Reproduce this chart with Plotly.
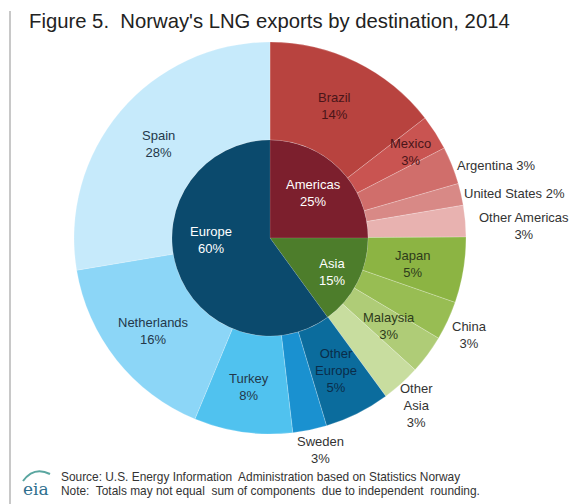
import math
import plotly.graph_objects as go

# ---------------- data ----------------
inner_labels = ["Americas", "Asia", "Europe"]
inner_values = [25, 15, 60]
inner_pct = ["25%", "15%", "60%"]

outer_labels = ["Brazil", "Mexico", "Argentina", "United States", "Other Americas",
                "Japan", "China", "Malaysia", "Other<br>Asia",
                "Other<br>Europe", "Sweden", "Turkey", "Netherlands", "Spain"]
# slice sizes (labels are rounded)
outer_values = [14.5, 2.9, 3.1, 1.8, 2.6,
                5.4, 3.2, 3.2, 3.2,
                5.4, 2.8, 8.1, 16.1, 27.6]
outer_pct = ["14%", "3%", "3%", "2%", "3%",
             "5%", "3%", "3%", "3%",
             "5%", "3%", "8%", "16%", "28%"]

# ---------------- style ----------------
# the page body has an 8px margin: work in reference-pixel coordinates, shifted by OFF
OFF = 8
W, H = 577 - OFF, 504 - OFF
CX, CY, R_OUT, R_IN = 270, 238, 196, 98
FONT = "Liberation Sans, Arial, sans-serif"

inner_colors = ["#7c1f2d", "#4d7d2b", "#0b4a6d"]
outer_colors = ["#b8433f", "#c95451", "#d06e6b", "#d88986", "#e8b2b0",
                "#8cb443", "#98bd53", "#afcc77", "#c8dd9f",
                "#0b6c9d", "#1a91d0", "#50c2ef", "#8cd6f7", "#c6eafb"]
inner_text_colors = ["white", "white", "white"]
outer_text_colors = ["#4a1519", "#4a1519", "#333333", "#333333", "#333333",
                     "#2e3b1b", "#333333", "#2e3b1b", "#333333",
                     "#0a2d4a", "#333333", "#23384a", "#23384a", "#23384a"]

# label placement: (mode, radius factor, angle shift, xanchor, yanchor, dx, dy, one_line)
outer_place = [
    ("in", 0.75, 0, "center", "middle", 0, 0, False),
    ("in", 0.84, 1, "center", "middle", 0, 0, False),
    ("out", 1.0, 0, "left", "middle", 3, 0, True),
    ("out", 1.0, 0, "left", "middle", 1, -1, True),
    ("out", 1.0, 0, "left", "middle", 12, 5, False),
    ("in", 0.74, 1, "center", "middle", 0, 0, False),
    ("out", 1.0, 0, "left", "middle", 2, 14, False),
    ("in", 0.755, 0, "center", "middle", 0, 0, False),
    ("out", 1.0, 0, "left", "top", -3, -5, False),
    ("in", 0.755, 0, "center", "middle", 0, 0, False),
    ("out", 1.0, 0, "center", "top", 11, 2, False),
    ("in", 0.77, 0, "center", "middle", 0, 0, False),
    ("in", 0.76, 0, "center", "middle", 0, 0, False),
    ("in", 0.745, 0, "center", "middle", 0, 0, False),
]
inner_place = [(0.64, -1), (0.72, 2), (0.60, 16)]


def px(x):
    return (x - OFF) / W


def py(y):
    return 1 - (y - OFF) / H


def polar(r, deg):
    a = math.radians(deg)
    return CX + r * math.sin(a), CY - r * math.cos(a)


fig = go.Figure()
fig.add_trace(go.Pie(
    values=outer_values, labels=outer_labels, hole=R_IN / R_OUT, sort=False,
    direction="clockwise", rotation=0, textinfo="none", showlegend=False,
    marker=dict(colors=outer_colors, line=dict(color="rgba(255,255,255,0.35)", width=0.6)),
    domain=dict(x=[px(CX - R_OUT), px(CX + R_OUT)], y=[py(CY + R_OUT), py(CY - R_OUT)]),
))
fig.add_trace(go.Pie(
    values=inner_values, labels=inner_labels, sort=False,
    direction="clockwise", rotation=0, textinfo="none", showlegend=False,
    marker=dict(colors=inner_colors, line=dict(color="rgba(255,255,255,0.2)", width=0.5)),
    domain=dict(x=[px(CX - R_IN), px(CX + R_IN)], y=[py(CY + R_IN), py(CY - R_IN)]),
))

ann = []
tot = sum(outer_values)
cum = 0
for i, v in enumerate(outer_values):
    mid = 360 * (cum + v / 2) / tot
    cum += v
    mode, rf, dth, xa, ya, dx, dy, one = outer_place[i]
    x, y = polar(R_OUT * rf, mid + dth)
    sep = " " if one else "<br>"
    ann.append(dict(x=px(x + dx), y=py(y + dy), xref="paper", yref="paper",
                    text=outer_labels[i] + sep + outer_pct[i], showarrow=False,
                    xanchor=xa, yanchor=ya, align="center",
                    font=dict(family=FONT, size=13, color=outer_text_colors[i])))

tot = sum(inner_values)
cum = 0
for i, v in enumerate(inner_values):
    mid = 360 * (cum + v / 2) / tot
    cum += v
    rf, dth = inner_place[i]
    x, y = polar(R_IN * rf, mid + dth)
    ann.append(dict(x=px(x), y=py(y), xref="paper", yref="paper",
                    text=inner_labels[i] + "<br>" + inner_pct[i], showarrow=False,
                    xanchor="center", yanchor="middle", align="center",
                    font=dict(family=FONT, size=13, color=inner_text_colors[i])))

# title
ann.append(dict(x=px(27), y=py(21), xref="paper", yref="paper", xanchor="left", yanchor="middle",
                text="Figure 5.  Norway's LNG exports by destination, 2014", showarrow=False,
                font=dict(family=FONT, size=20.3, color="#222222")))
# footer
ann.append(dict(x=px(59), y=py(477), xref="paper", yref="paper", xanchor="left", yanchor="middle",
                text="Source: U.S. Energy Information  Administration based on Statistics Norway",
                showarrow=False, font=dict(family=FONT, size=11.9, color="#333333")))
ann.append(dict(x=px(59), y=py(491), xref="paper", yref="paper", xanchor="left", yanchor="middle",
                text="Note:  Totals may not equal  sum of components  due to independent  rounding.",
                showarrow=False, font=dict(family=FONT, size=11.9, color="#333333")))
ann.append(dict(x=px(21), y=py(489), xref="paper", yref="paper", xanchor="left", yanchor="middle",
                text="eia", showarrow=False,
                font=dict(family="DejaVu Serif, serif", size=17, color="#2e6e8e")))

shapes = [
    dict(type="rect", xref="paper", yref="paper", x0=px(9), x1=px(11), y0=0, y1=py(11),
         fillcolor="#c8c8c8", line=dict(width=0)),
    dict(type="path", xref="paper", yref="paper",
         path=f"M {px(23)} {py(481)} Q {px(34)} {py(466)} {px(50)} {py(474)}",
         line=dict(color="#5aa6a0", width=2)),
]

fig.update_layout(width=W, height=H, margin=dict(l=0, r=0, t=0, b=0),
                  paper_bgcolor="white", plot_bgcolor="white",
                  annotations=ann, shapes=shapes, showlegend=False)
fig.write_html("out.html")
